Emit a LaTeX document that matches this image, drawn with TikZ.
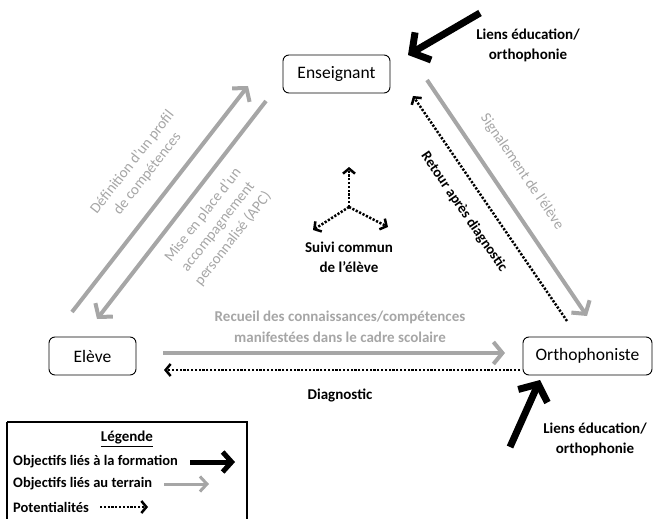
\documentclass[tikz,border=0pt]{standalone}
\usepackage{fontspec}
\setmainfont{Carlito}
\usetikzlibrary{arrows.meta}
\definecolor{lg}{RGB}{166,166,166}
\begin{document}
\begin{tikzpicture}[x=1pt,y=-1pt,
 box/.style={draw, rounded corners=6pt, line width=0.9pt, minimum height=38pt, inner sep=0pt, font=\fontsize{17.5}{20}\selectfont},
 garrow/.style={draw=lg, line width=4pt, -{Straight Barb[length=9pt,width=22pt]}},
 barrow/.style={draw=black, line width=7pt, -{Straight Barb[length=13pt,width=32pt]}},
 darrow/.style={draw=black, line width=2.5pt, dash pattern=on 2.2pt off 1.6pt, -{Straight Barb[length=5pt,width=12pt]}},
 glabel/.style={text=lg, font=\fontsize{15}{19}\selectfont, align=center, inner sep=0pt},
 gblabel/.style={text=lg, font=\bfseries\fontsize{15}{21}\selectfont, align=center, inner sep=0pt},
 blabel/.style={text=black, font=\bfseries\fontsize{15}{20}\selectfont, align=center, inner sep=0pt},
 leg/.style={text=black, font=\bfseries\fontsize{14.5}{18}\selectfont, anchor=west, inner sep=0pt}
]
\useasboundingbox (0,0) rectangle (654,519);

% boxes
\node[box, minimum width=107pt] (ens) at (336.5,74) {Enseignant};
\node[box, minimum width=87pt] (ele) at (92.5,356) {Elève};
\node[box, minimum width=129pt] (ort) at (587.5,356) {Orthophoniste};

% endpoints
\coordinate (a1s) at (72,312);  \coordinate (a1e) at (248,86);
\coordinate (a2s) at (266,101); \coordinate (a2e) at (97,319);
\coordinate (a3s) at (427,80);  \coordinate (a3e) at (587,316);
\coordinate (a4s) at (567,321); \coordinate (a4e) at (413,96);
\coordinate (a5s) at (163,353); \coordinate (a5e) at (505,353);
\coordinate (a6s) at (520,370); \coordinate (a6e) at (164,370);
\coordinate (b1s) at (480,13);  \coordinate (b1e) at (408,55);
\coordinate (b2s) at (510,447); \coordinate (b2e) at (540,380);
\coordinate (c0) at (349,207);
\coordinate (cu) at (349,167);
\coordinate (cl) at (313,230);
\coordinate (cr) at (388,227);

% gray arrows
\draw[garrow] (a1s) -- (a1e);
\draw[garrow] (a2s) -- (a2e);
\draw[garrow] (a3s) -- (a3e);
\draw[garrow] (a5s) -- (a5e);

% dotted arrows
\draw[darrow] (a4s) -- (a4e);
\draw[darrow] (a6s) -- (a6e);
\draw[darrow] (c0) -- (cu);
\draw[darrow] (c0) -- (cl);
\draw[darrow] (c0) -- (cr);

% black arrows
\draw[barrow] (b1s) -- (b1e);
\draw[barrow] (b2s) -- (b2e);

% labels
\node[glabel, rotate=52] (l1) at (140,168) {Définition d’un profil\\de compétences};
\node[glabel, rotate=52] (l2) at (218,227) {Mise en place d’un\\accompagnement\\personnalisé (APC)};
\node[glabel, rotate=-55.8] (l3) at (522,172) {Signalement de l’élève};
\node[text=black, font=\bfseries\fontsize{14.5}{18}\selectfont, inner sep=0pt, rotate=-55.5] (l4) at (464,212) {Retour après diagnostic};
\node[gblabel] (l5) at (340,327) {Recueil des connaissances/compétences\\manifestées dans le cadre scolaire};
\node[blabel] (l6) at (340,395) {Diagnostic};
\node[blabel] (l7) at (349,257) {Suivi commun\\de l’élève};
\node[blabel] (l8) at (528,45) {Liens éducation/\\orthophonie};
\node[blabel] (l9) at (595,439) {Liens éducation/\\orthophonie};

% legend
\draw[line width=1.4pt] (7,422) -- (7,530) (7,422) -- (247,422) -- (247,530);
\node[blabel] (lg0) at (127,439) {\underline{Légende}};
\node[leg] (lg1) at (13,462) {Objectifs liés à la formation};
\node[leg] (lg2) at (13,484) {Objectifs liés au terrain};
\node[leg] (lg3) at (13,507) {Potentialités};
\coordinate (k1s) at (190,462); \coordinate (k1e) at (235,462);
\coordinate (k2s) at (164,484); \coordinate (k2e) at (209,484);
\coordinate (k3s) at (100,507); \coordinate (k3e) at (148,507);
\draw[draw=black, line width=5pt, -{Straight Barb[length=9pt,width=20pt]}] (k1s) -- (k1e);
\draw[draw=lg, line width=3pt, -{Straight Barb[length=7pt,width=15pt]}] (k2s) -- (k2e);
\draw[darrow] (k3s) -- (k3e);
\end{tikzpicture}
\end{document}
